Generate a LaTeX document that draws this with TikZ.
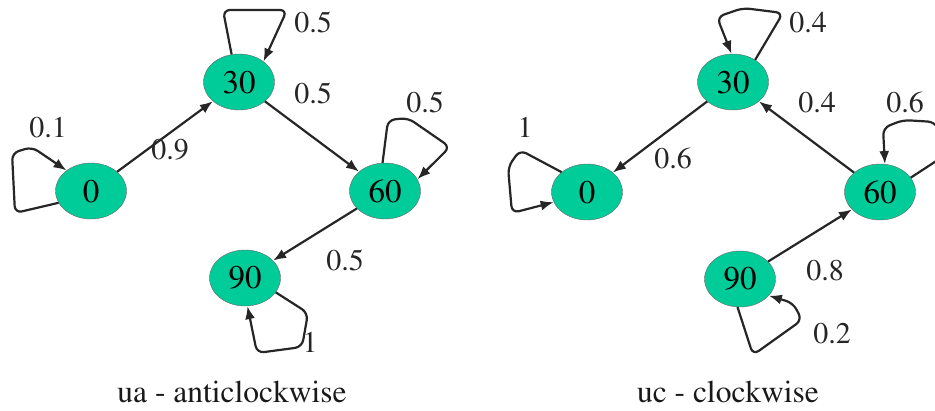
\documentclass[tikz,border=0pt]{standalone}
\usepackage[T1]{fontenc}
\usepackage{times}
\usetikzlibrary{arrows.meta,shapes.geometric}
\definecolor{stategreen}{RGB}{0,204,153}
\tikzset{
  state/.style={ellipse, fill=stategreen, draw=black!60, thin, minimum width=71pt, minimum height=56pt, inner sep=0pt, font=\rmfamily\fontsize{33}{36}\selectfont},
  arr/.style={draw=black!85, line width=2.2pt, -{Latex[length=13pt,width=10pt]}, shorten >=0pt},
  lp/.style={arr, rounded corners=7pt},
  lbl/.style={font=\rmfamily\fontsize{30}{32}\selectfont, inner sep=0pt, text=black!85},
  captext/.style={font=\rmfamily\fontsize{31.5}{34}\selectfont, inner sep=0pt, text=black!90}
}
\begin{document}
\begin{tikzpicture}[x=1pt,y=-1pt]
\useasboundingbox (0,0) rectangle (935,410);
% left diagram
\node[state] (a0) at (91,191) {0};
\node[state] (a30) at (239,82) {30};
\node[state] (a60) at (385,191) {60};
\node[state] (a90) at (245,278) {90};
\draw[arr] (a0) -- (a30);
\draw[arr] (a30) -- (a60);
\draw[arr] (a60) -- (a90);
\draw[lp] (a0.200) -- (15,213) -- (12,153) -- (32,147) -- (a0.140);
\draw[lp] (a30.105) -- (223,10) -- (287,10) -- (a30.40);
\draw[lp] (a60.95) -- (388,120) -- (408,118) -- (450,147) -- (a60.20);
\draw[lp] (a90.-25) -- (308,313) -- (302,347) -- (257,353) -- (a90.-85);
\node[lbl] (la1) at (313,22) {0.5};
\node[lbl] (la2) at (313,93) {0.5};
\node[lbl] (la3) at (425,102) {0.5};
\node[lbl] (la4) at (48,127) {0.1};
\node[lbl] (la5) at (170,150) {0.9};
\node[lbl] (la6) at (345,260) {0.5};
\node[lbl] (la7) at (310,342) {1};
\node[captext] (ca) at (232,392) {ua - anticlockwise};
% right diagram
\node[state] (b0) at (587,192) {0};
\node[state] (b30) at (733,82) {30};
\node[state] (b60) at (880,192) {60};
\node[state] (b90) at (740,279) {90};
\draw[arr] (b30) -- (b0);
\draw[arr] (b60) -- (b30);
\draw[arr] (b90) -- (b60);
\draw[lp] (b30.45) -- (783,13) -- (743,8) -- (717,17) -- (b30.93);
\draw[lp] (b0.142) -- (520,150) -- (508,167) -- (512,213) -- (b0.197);
\draw[lp] (b60.25) -- (950,152) -- (935,122) -- (903,120) -- (883,128) -- (b60.80);
\draw[lp] (b90.-95) -- (753,355) -- (802,320) -- (793,303) -- (b90.-30);
\node[lbl] (lb1) at (808,22) {0.4};
\node[lbl] (lb2) at (817,102) {0.4};
\node[lbl] (lb3) at (905,102) {0.6};
\node[lbl] (lb4) at (525,127) {1};
\node[lbl] (lb5) at (673,158) {0.6};
\node[lbl] (lb6) at (825,270) {0.8};
\node[lbl] (lb7) at (832,333) {0.2};
\node[captext] (cb) at (728,392) {uc - clockwise};
\end{tikzpicture}
\end{document}
